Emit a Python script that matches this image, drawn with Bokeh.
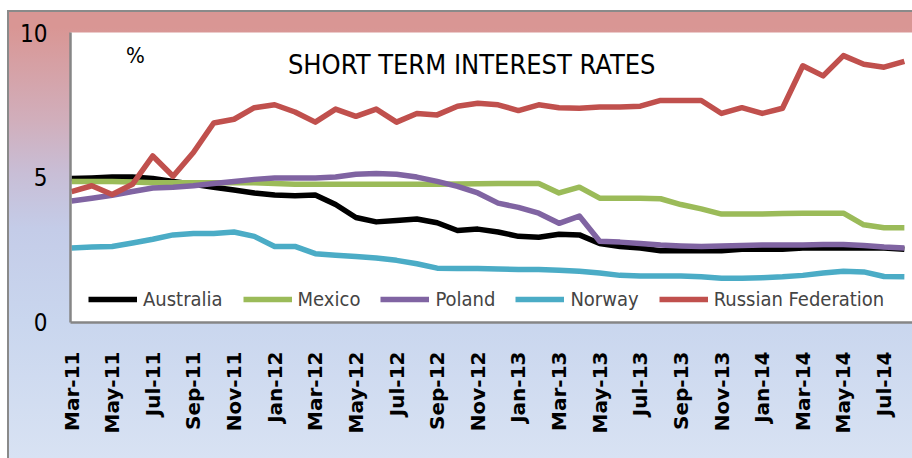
import math
from bokeh.plotting import figure
from bokeh.models import Range1d, FixedTicker, Label, Legend, LegendItem
from bokeh.embed import file_html
from bokeh.resources import INLINE

months = ["Mar-11", "Apr-11", "May-11", "Jun-11", "Jul-11", "Aug-11", "Sep-11", "Oct-11",
          "Nov-11", "Dec-11", "Jan-12", "Feb-12", "Mar-12", "Apr-12", "May-12", "Jun-12",
          "Jul-12", "Aug-12", "Sep-12", "Oct-12", "Nov-12", "Dec-12", "Jan-13", "Feb-13",
          "Mar-13", "Apr-13", "May-13", "Jun-13", "Jul-13", "Aug-13", "Sep-13", "Oct-13",
          "Nov-13", "Dec-13", "Jan-14", "Feb-14", "Mar-14", "Apr-14", "May-14", "Jun-14",
          "Jul-14", "Aug-14"]

australia = [4.95, 4.97, 5.0, 5.0, 4.95, 4.85, 4.75, 4.65, 4.55, 4.45, 4.38, 4.35, 4.38, 4.05,
             3.6, 3.45, 3.5, 3.55, 3.42, 3.15, 3.2, 3.1, 2.95, 2.92, 3.02, 3.0, 2.7, 2.6,
             2.55, 2.45, 2.45, 2.45, 2.45, 2.5, 2.5, 2.5, 2.55, 2.55, 2.55, 2.55, 2.55, 2.5]
mexico = [4.85, 4.85, 4.85, 4.83, 4.8, 4.8, 4.8, 4.8, 4.8, 4.8, 4.78, 4.75, 4.75, 4.75,
          4.75, 4.75, 4.75, 4.75, 4.75, 4.76, 4.77, 4.78, 4.78, 4.78, 4.45, 4.65, 4.27, 4.27,
          4.27, 4.25, 4.05, 3.9, 3.72, 3.72, 3.72, 3.74, 3.75, 3.75, 3.75, 3.35, 3.25, 3.25]
poland = [4.17, 4.27, 4.37, 4.5, 4.62, 4.65, 4.7, 4.78, 4.85, 4.92, 4.97, 4.97, 4.97, 5.0,
          5.1, 5.12, 5.1, 5.0, 4.85, 4.68, 4.45, 4.1, 3.95, 3.75, 3.4, 3.65, 2.78, 2.75,
          2.7, 2.65, 2.62, 2.6, 2.62, 2.63, 2.65, 2.65, 2.65, 2.67, 2.67, 2.63, 2.58, 2.55]
norway = [2.55, 2.58, 2.6, 2.72, 2.85, 3.0, 3.05, 3.05, 3.1, 2.95, 2.6, 2.6, 2.35, 2.3,
          2.25, 2.2, 2.12, 2.0, 1.85, 1.84, 1.84, 1.82, 1.8, 1.8, 1.78, 1.74, 1.68, 1.6,
          1.58, 1.58, 1.58, 1.55, 1.5, 1.5, 1.52, 1.55, 1.6, 1.68, 1.74, 1.72, 1.56, 1.55]
russia = [4.5, 4.7, 4.4, 4.75, 5.73, 5.03, 5.85, 6.87, 7.0, 7.4, 7.5, 7.25, 6.9, 7.35,
          7.1, 7.35, 6.9, 7.2, 7.15, 7.45, 7.55, 7.5, 7.3, 7.5, 7.4, 7.38, 7.42, 7.42,
          7.45, 7.65, 7.65, 7.65, 7.2, 7.4, 7.2, 7.38, 8.85, 8.5, 9.2, 8.9, 8.8, 9.0]

series_names = ["Australia", "Mexico", "Poland", "Norway", "Russian Federation"]
series_colors = ["#000000", "#9BBB59", "#8064A2", "#4BACC6", "#C0504D"]
y_ticks = [0, 5, 10]
title_text = "SHORT TERM INTEREST RATES"
unit_text = "%"

FONT = "DejaVu Sans Condensed, Lato, sans-serif"

x = list(range(len(months)))

p = figure(width=912, height=458, output_backend="svg", toolbar_location=None,
           x_range=Range1d(-0.05, 41.4), y_range=Range1d(-0.03, 10),
           min_border_left=70, min_border_right=0, min_border_top=32,
           min_border_bottom=136)
p.styles = {
    "background": ("linear-gradient(#8a8a8a,#8a8a8a) 7px 10px/2px 100% no-repeat, "
                   "linear-gradient(#8a8a8a,#8a8a8a) 7px 10px/100% 2px no-repeat, "
                   "linear-gradient(#ffffff,#ffffff) 0px 0px/100% 10px no-repeat, "
                   "linear-gradient(#ffffff,#ffffff) 0px 0px/7px 100% no-repeat, "
                   "linear-gradient(to bottom, #D99694 0%, #D99694 6%, #D6A0A4 14%, #D1AEBB 26%, "
                   "#C8BED6 38%, #C4CCE8 50%, #C9D6EE 70%, #D8E2F3 100%)")
}
p.border_fill_alpha = 0
p.background_fill_color = "white"
p.outline_line_color = None
p.xgrid.visible = False
p.ygrid.visible = False

renderers = []
for vals, col in zip([australia, mexico, poland, norway, russia], series_colors):
    r = p.line(x, vals, line_color=col, line_width=5.5, line_join="round")
    renderers.append(r)

legend = Legend(items=[LegendItem(label=n, renderers=[r]) for n, r in zip(series_names, renderers)],
                orientation="horizontal", location=(18, 11),
                background_fill_alpha=0, border_line_color=None,
                label_text_font=FONT, label_text_font_size="20px",
                glyph_width=49, glyph_height=20, label_height=20,
                spacing=20, label_standoff=6, padding=0, margin=0)
p.add_layout(legend)

# axes
p.yaxis.ticker = FixedTicker(ticks=y_ticks)
p.yaxis.major_tick_out = 0
p.yaxis.major_tick_in = 0
p.yaxis.minor_tick_out = 0
p.yaxis.minor_tick_in = 0
p.yaxis.axis_line_color = "#868686"
p.yaxis.axis_line_width = 2.5
p.yaxis.major_label_text_font = FONT
p.yaxis.major_label_text_font_size = "24px"
p.yaxis.major_label_text_color = "black"
p.yaxis.major_label_standoff = 23

p.xaxis.ticker = FixedTicker(ticks=list(range(0, len(months), 2)))
p.xaxis.major_label_overrides = {i: months[i] for i in range(0, len(months), 2)}
p.xaxis.major_label_orientation = math.pi / 2
p.xaxis.major_tick_out = 0
p.xaxis.major_tick_in = 0
p.xaxis.minor_tick_out = 0
p.xaxis.minor_tick_in = 0
p.xaxis.axis_line_color = "#868686"
p.xaxis.axis_line_width = 2.5
p.xaxis.major_label_text_font = "DejaVu Sans"
p.xaxis.major_label_text_font_style = "bold"
p.xaxis.major_label_text_font_size = "20px"
p.xaxis.major_label_text_color = "black"
p.xaxis.major_label_standoff = 29

p.add_layout(Label(x=19.7, y=8.88, text=title_text, text_align="center",
                   text_baseline="alphabetic", text_font=FONT,
                   text_font_size="27px", text_color="black"))
p.add_layout(Label(x=3.15, y=9.2, text=unit_text, text_align="center",
                   text_baseline="alphabetic", text_font=FONT,
                   text_font_size="22px", text_color="black"))

open("out.html", "w").write(file_html(p, INLINE))
